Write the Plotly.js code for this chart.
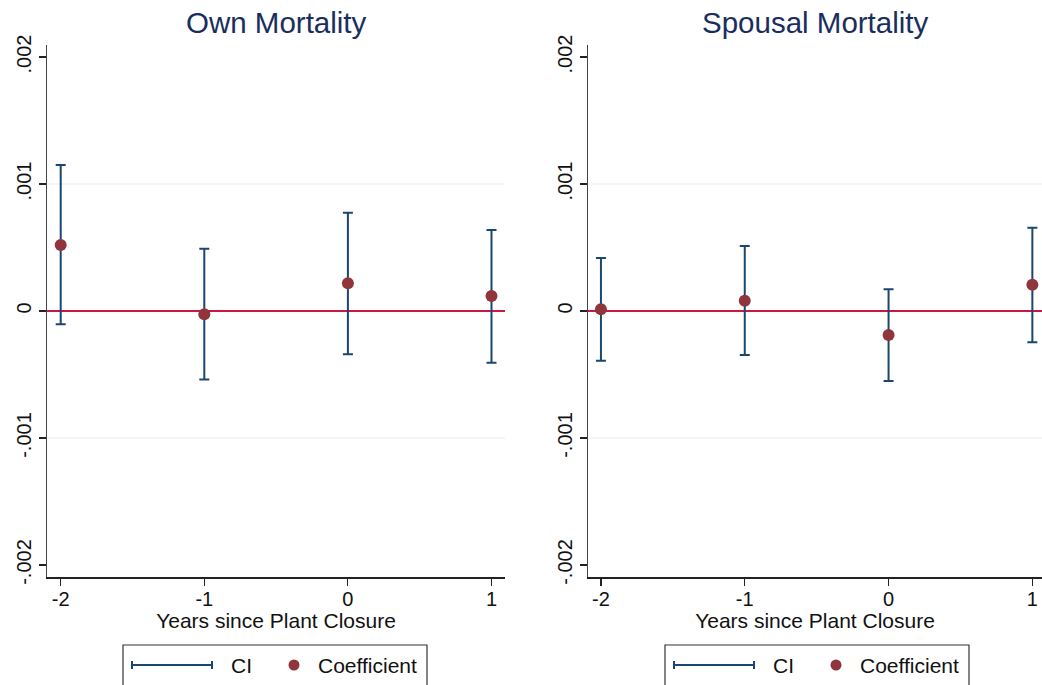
<!DOCTYPE html>
<html>
<head>
<meta charset="utf-8">
<script src="https://cdn.plot.ly/plotly-3.0.1.min.js"></script>
<style>
  html, body { margin: 0; padding: 0; background: #ffffff; }
  #chart { width: 1042px; height: 685px; }
</style>
</head>
<body>
<div id="chart"></div>
<script>
// Event-study estimates around plant closure
const years = [-2, -1, 0, 1];
const yearTicks = ["-2", "-1", "0", "1"];

const ownCoef = [0.00052, -0.000026, 0.000218, 0.000118];
const ownLo   = [-0.000105, -0.00054, -0.000341, -0.000407];
const ownHi   = [0.00115, 0.00049, 0.000774, 0.000638];

const spouseCoef = [0.000013, 0.000081, -0.000189, 0.000207];
const spouseLo   = [-0.000391, -0.000346, -0.000551, -0.000246];
const spouseHi   = [0.000417, 0.000512, 0.000171, 0.000656];

const yTickVals = [-0.002, -0.001, 0, 0.001, 0.002];
const yTickText = ["-.002", "-.001", "0", ".001", ".002"];
const gridVals = [-0.001, 0.001];

const panelTitles = ["Own Mortality", "Spousal Mortality"];
const xTitle = "Years since Plant Closure";
const legendLabels = ["CI", "Coefficient"];

const W = 1042, H = 685;
const NAVY = "#1a476f";
const MAROON = "#90353b";
const ZERO = "#cc1744";
const TITLE = "#1a2e5e";
const GRID = "#e8eef0";
const FONT = "Liberation Sans, Arial, sans-serif";

const px = v => v / W;          // pixel -> paper x
const py = v => 1 - v / H;      // pixel -> paper y

function ciTrace(coef, lo, hi, xa, ya) {
  return {
    type: "scatter", mode: "markers",
    x: years, y: coef, xaxis: xa, yaxis: ya,
    marker: { color: MAROON, size: 12, line: { width: 0 } },
    error_y: {
      type: "data", symmetric: false,
      array: hi.map((h, i) => h - coef[i]),
      arrayminus: lo.map((l, i) => coef[i] - l),
      color: NAVY, thickness: 2, width: 5
    },
    showlegend: false, hoverinfo: "x+y"
  };
}

const data = [
  ciTrace(ownCoef, ownLo, ownHi, "x", "y"),
  ciTrace(spouseCoef, spouseLo, spouseHi, "x2", "y2")
];

function xAxis(domain, range, anchor) {
  return {
    domain: domain, range: range, anchor: anchor,
    tickvals: years, ticktext: yearTicks,
    ticks: "outside", ticklen: 7, tickwidth: 1.2, tickcolor: "#222",
    ticklabelstandoff: -4,
    showline: true, linecolor: "#222", linewidth: 1.5,
    showgrid: false, zeroline: false,
    tickfont: { family: FONT, size: 20, color: "#111" },
    title: { text: xTitle, font: { family: FONT, size: 21, color: "#111" }, standoff: 0 },
    fixedrange: true
  };
}
function yAxis(anchor) {
  return {
    domain: [1 - 577 / H, 1 - 45 / H], range: [-0.0020945, 0.0020945], anchor: anchor,
    tickvals: yTickVals, ticktext: yTickText, tickangle: -90,
    ticks: "outside", ticklen: 7, tickwidth: 1.2, tickcolor: "#222",
    showline: true, linecolor: "#444", linewidth: 1.5,
    showgrid: false,
    zeroline: true, zerolinecolor: ZERO, zerolinewidth: 2,
    tickfont: { family: FONT, size: 20, color: "#111" },
    fixedrange: true
  };
}

const shapes = [];
const annotations = [];

// interior gridlines for both panels
[["x", "y"], ["x2", "y2"]].forEach(([xa, ya]) => {
  gridVals.forEach(g => shapes.push({
    type: "line", xref: xa + " domain", yref: ya, x0: 0, x1: 1, y0: g, y1: g,
    line: { color: GRID, width: 1.2 }, layer: "below"
  }));
});

// panel titles
const panelCenters = [(47 + 505) / 2, (588 + 1042) / 2];
panelTitles.forEach((t, i) => annotations.push({
  text: t, xref: "paper", yref: "paper", x: px(panelCenters[i]), y: py(22),
  xanchor: "center", yanchor: "middle", showarrow: false,
  font: { family: FONT, size: 29.5, color: TITLE }
}));

// boxed legend under each panel
function addLegend(left) {
  const top = 645, right = left + 304, cy = 665;
  shapes.push({ type: "rect", xref: "paper", yref: "paper",
    x0: px(left), x1: px(right), y0: py(top), y1: py(700),
    line: { color: "#333", width: 1.2 }, fillcolor: "rgba(0,0,0,0)" });
  const l0 = left + 9, l1 = left + 89;
  shapes.push({ type: "line", xref: "paper", yref: "paper",
    x0: px(l0), x1: px(l1), y0: py(cy), y1: py(cy), line: { color: NAVY, width: 2 } });
  [l0, l1].forEach(c => shapes.push({ type: "line", xref: "paper", yref: "paper",
    x0: px(c), x1: px(c), y0: py(cy - 4), y1: py(cy + 4), line: { color: NAVY, width: 2 } }));
  shapes.push({ type: "circle", xref: "paper", yref: "paper",
    x0: px(left + 171 - 5.5), x1: px(left + 171 + 5.5),
    y0: py(cy - 5.5), y1: py(cy + 5.5), fillcolor: MAROON, line: { width: 0 } });
  annotations.push({ text: legendLabels[0], xref: "paper", yref: "paper",
    x: px(left + 106), y: py(cy), xanchor: "left", yanchor: "middle", showarrow: false,
    font: { family: FONT, size: 21, color: "#111" } });
  annotations.push({ text: legendLabels[1], xref: "paper", yref: "paper",
    x: px(left + 193), y: py(cy), xanchor: "left", yanchor: "middle", showarrow: false,
    font: { family: FONT, size: 21, color: "#111" } });
}
addLegend(123);
addLegend(665);

const layout = {
  width: W, height: H,
  margin: { l: 0, r: 0, t: 0, b: 0 },
  paper_bgcolor: "#ffffff", plot_bgcolor: "#ffffff",
  showlegend: false,
  xaxis: xAxis([px(47), px(505)], [-2.0954, 1.094], "y"),
  yaxis: yAxis("x"),
  xaxis2: xAxis([px(588), 1], [-2.09, 1.067], "y2"),
  yaxis2: yAxis("x2"),
  shapes: shapes,
  annotations: annotations,
  font: { family: FONT }
};

Plotly.newPlot("chart", data, layout, { displayModeBar: false, staticPlot: true });
</script>
</body>
</html>
